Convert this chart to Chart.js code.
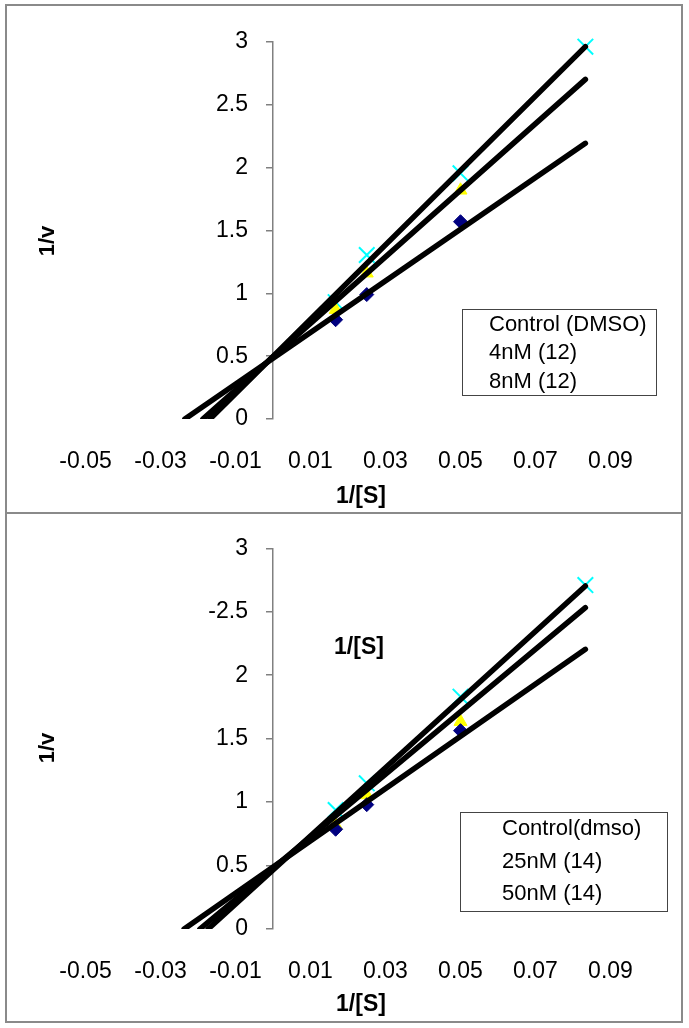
<!DOCTYPE html>
<html>
<head>
<meta charset="utf-8">
<script src="https://cdn.jsdelivr.net/npm/chart.js@4.4.1/dist/chart.umd.min.js"></script>
<style>
  body { margin: 0; background: #fff; }
  .panel { position: absolute; left: 5px; width: 678px; border: 2px solid #8a8a8a; box-sizing: border-box; }
  canvas { position: absolute; left: 0; }
</style>
</head>
<body>
<div class="panel" style="top:4px;height:510px"></div>
<div class="panel" style="top:512px;height:511px"></div>
<canvas id="topChart" width="689" height="512" style="top:0"></canvas>
<canvas id="bottomChart" width="689" height="516" style="top:512px"></canvas>
<script>
// 1/[S] used in both experiments
var substrateInv = [0.0167, 0.025, 0.05, 0.0833];
var topYTickLabels = ['0', '0.5', '1', '1.5', '2', '2.5', '3'];
var bottomYTickLabels = ['0', '0.5', '1', '1.5', '2', '-2.5', '3'];

// top panel (compound 12)
var topNames = ['Control (DMSO)', '4nM (12)', '8nM (12)'];
var topControl = [0.79, 0.99, 1.57];
var top4nM = [0.87, 1.16, 1.82];
var top8nM = [0.93, 1.305, 1.955, 2.963];
var topFitStartX = [-0.0235, -0.0187, -0.0168]; // where each trend line meets 1/v = 0
var topFitEndY = [2.194, 2.703, 2.963];          // trend line value at the last 1/[S]

// bottom panel (compound 14)
var bottomNames = ['Control(dmso)', '25nM (14)', '50nM (14)'];
var bottomControl = [0.786, 0.98, 1.563];
var bottom25nM = [0.82, 1.056, 1.634];
var bottom50nM = [0.938, 1.148, 1.831, 2.71];
var bottomFitStartX = [-0.0237, -0.0195, -0.0173];
var bottomFitEndY = [2.204, 2.532, 2.703];

var FONT = '"Liberation Sans", Arial, sans-serif';
Chart.defaults.font.family = FONT;
Chart.defaults.color = '#000';

var markerStyles = [
    { pointStyle: 'rectRot', fill: '#000080', stroke: '#000080', radius: 7, width: 1 },
    { pointStyle: 'triangle', fill: '#ffff00', stroke: '#ffff00', radius: 7.5, width: 1 },
    { pointStyle: 'crossRot', fill: '#00ffff', stroke: '#00ffff', radius: 11, width: 2 }
];

function toPoints(values) {
    return values.map(function (v, i) { return { x: substrateInv[i], y: v }; });
}

// y labels next to the axis at x = 0, titles, stray label and legend box
var panelText = {
    id: 'panelText',
    afterDraw: function (chart, args, opts) {
        var ctx = chart.ctx;
        var ys = chart.scales.y;
        var axisX = chart.scales.x.getPixelForValue(0);
        ctx.save();
        ctx.fillStyle = '#000';
        ctx.textBaseline = 'middle';

        ctx.textAlign = 'right';
        ctx.font = '23px ' + FONT;
        ys.ticks.forEach(function (t) {
            ctx.fillText(t.label, axisX - 25, ys.getPixelForValue(t.value));
        });

        (opts.items || []).forEach(function (t) {
            ctx.save();
            ctx.textAlign = 'center';
            ctx.font = (t.bold ? 'bold ' : '') + t.size + 'px ' + FONT;
            ctx.translate(t.x, t.y);
            if (t.rotate) ctx.rotate(-Math.PI / 2);
            ctx.fillText(t.text, 0, 0);
            ctx.restore();
        });

        var lg = opts.legend;
        if (lg) {
            ctx.strokeStyle = '#444';
            ctx.lineWidth = 1;
            ctx.strokeRect(lg.x + 0.5, lg.y + 0.5, lg.w, lg.h);
            ctx.textAlign = 'left';
            ctx.font = lg.size + 'px ' + FONT;
            var names = chart.data.datasets.filter(function (d) { return !d.showLine; })
                .map(function (d) { return d.label; });
            names.forEach(function (n, i) { ctx.fillText(n, lg.textX, lg.rowY[i]); });
        }
        ctx.restore();
    }
};

function makeChart(id, cfg) {
    var datasets = [];
    cfg.fitStartX.forEach(function (sx, i) {
        datasets.push({
            label: 'fit ' + cfg.names[i],
            data: [{ x: sx, y: 0 }, { x: substrateInv[3], y: cfg.fitEndY[i] }],
            showLine: true,
            borderColor: '#000',
            borderWidth: 5.5,
            borderCapStyle: 'round',
            pointRadius: 0,
            clip: 0
        });
    });
    cfg.series.forEach(function (vals, i) {
        var s = markerStyles[i];
        datasets.push({
            label: cfg.names[i],
            data: toPoints(vals),
            pointStyle: s.pointStyle,
            pointRadius: s.radius,
            pointBackgroundColor: s.fill,
            pointBorderColor: s.stroke,
            pointBorderWidth: s.width,
            clip: false
        });
    });

    return new Chart(document.getElementById(id).getContext('2d'), {
        type: 'scatter',
        data: { datasets: datasets },
        plugins: [panelText],
        options: {
            responsive: false,
            animation: false,
            events: [],
            layout: { padding: { left: 85.5, right: 78.5, top: cfg.top, bottom: 0 } },
            plugins: {
                legend: { display: false },
                tooltip: { enabled: false },
                panelText: { items: cfg.texts, legend: cfg.legend }
            },
            scales: {
                x: {
                    type: 'linear',
                    min: -0.05,
                    max: 0.09,
                    afterFit: function (s) { s.height = cfg.xAxisHeight; },
                    grid: { display: false, drawTicks: false },
                    border: { display: false },
                    ticks: {
                        stepSize: 0.02,
                        padding: cfg.xPad,
                        maxRotation: 0,
                        autoSkip: false,
                        font: { size: 23 },
                        callback: function (v) { return Number(v).toFixed(2); }
                    }
                },
                y: {
                    type: 'linear',
                    min: 0,
                    max: 3,
                    position: { x: 0 },
                    grid: { drawOnChartArea: false, tickLength: 6, color: '#808080', lineWidth: 1.5 },
                    border: { color: '#808080', width: 1.5 },
                    ticks: {
                        display: false,
                        stepSize: 0.5,
                        callback: function (v) { return cfg.yLabels[Math.round(v / 0.5)]; }
                    }
                }
            }
        }
    });
}

document.addEventListener("DOMContentLoaded", function () {
    makeChart('topChart', {
        names: topNames,
        series: [topControl, top4nM, top8nM],
        fitStartX: topFitStartX,
        fitEndY: topFitEndY,
        yLabels: topYTickLabels,
        top: 42,
        xAxisHeight: 93,
        xPad: 29,
        texts: [
            { text: '1/v', x: 48, y: 241, size: 22, bold: true, rotate: true },
            { text: '1/[S]', x: 361, y: 497, size: 23, bold: true }
        ],
        legend: { x: 462, y: 309, w: 194, h: 86, textX: 489, rowY: [325, 353, 382], size: 22 }
    });

    makeChart('bottomChart', {
        names: bottomNames,
        series: [bottomControl, bottom25nM, bottom50nM],
        fitStartX: bottomFitStartX,
        fitEndY: bottomFitEndY,
        yLabels: bottomYTickLabels,
        top: 36.3,
        xAxisHeight: 99,
        xPad: 29,
        texts: [
            { text: '1/v', x: 48, y: 236, size: 22, bold: true, rotate: true },
            { text: '1/[S]', x: 361, y: 493, size: 23, bold: true },
            { text: '1/[S]', x: 359, y: 136, size: 23, bold: true }
        ],
        legend: { x: 460, y: 300, w: 207, h: 99, textX: 502, rowY: [317, 350, 382], size: 22 }
    });
});
</script>
</body>
</html>
